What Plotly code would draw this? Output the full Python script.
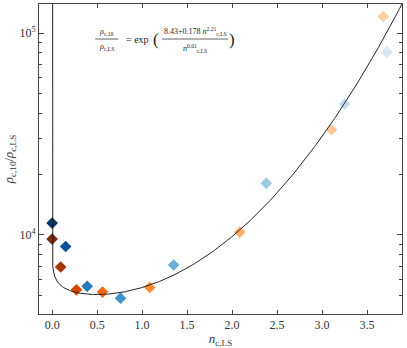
import numpy as np
import plotly.graph_objects as go

# blue series
blue_n = [0.0, 0.15, 0.39, 0.76, 1.35, 2.38, 3.25, 3.72]
blue_ratio = [11430, 8750, 5550, 4850, 7080, 18030, 44600, 80500]
blue_colors = ["#08306b", "#08519c", "#2b7bba", "#4292c6", "#6baed6", "#9ecae1", "#c6dbef", "#d6e6f4"]

# orange series
orange_n = [0.0, 0.095, 0.27, 0.56, 1.085, 2.086, 3.105, 3.68]
orange_ratio = [9520, 6920, 5330, 5200, 5480, 10310, 33200, 120900]
orange_colors = ["#7f2704", "#a63603", "#d94801", "#f16913", "#fd8d3c", "#fdae6b", "#fdc897", "#fdd0a2"]

# fit shown in the annotation
a, b, p, q = 8.43, 0.178, 2.21, 0.01
n_fit = np.concatenate([np.logspace(-40, -2, 300), np.linspace(0.011, 3.9, 400)])
fit = np.exp((a + b * n_fit ** p) / n_fit ** q)

FONT = "Liberation Serif, DejaVu Serif, serif"

fig = go.Figure()
fig.add_trace(go.Scatter(x=blue_n, y=blue_ratio, mode="markers",
                         marker=dict(symbol="diamond", size=9, color=blue_colors, line=dict(width=0)),
                         showlegend=False))
fig.add_trace(go.Scatter(x=orange_n, y=orange_ratio, mode="markers",
                         marker=dict(symbol="diamond", size=9, color=orange_colors, line=dict(width=0)),
                         showlegend=False))
fig.add_trace(go.Scatter(x=n_fit, y=fit, mode="lines",
                         line=dict(color="#222222", width=1), showlegend=False))

minor_vals = [v * 10 ** e for e in (3, 4, 5) for v in range(2, 10)]

fig.update_xaxes(range=[-0.146, 3.888], tickvals=[0, 0.5, 1, 1.5, 2, 2.5, 3, 3.5],
                 ticktext=["0.0", "0.5", "1.0", "1.5", "2.0", "2.5", "3.0", "3.5"],
                 ticks="inside", ticklen=4, tickcolor="#444", showline=True, linecolor="#444",
                 linewidth=1, mirror="ticks", showgrid=False, zeroline=False, automargin=False,
                 tickfont=dict(family=FONT, size=12, color="#333"),
                 title=dict(text="<i>n</i><sub>c,LS</sub>", standoff=1,
                            font=dict(family=FONT, size=13, color="#333")))
fig.update_yaxes(type="log", range=[3.607, 5.145], tickvals=[1e4, 1e5],
                 ticktext=["10<sup>4</sup>", "10<sup>5</sup>"],
                 ticks="inside", ticklen=5, tickcolor="#444", showline=True, linecolor="#444",
                 linewidth=1, mirror="ticks", showgrid=False, zeroline=False, automargin=False,
                 tickfont=dict(family=FONT, size=12, color="#333"),
                 minor=dict(tickvals=minor_vals, ticks="inside", ticklen=3, tickcolor="#444", showgrid=False),
                 title=dict(text="<i>ρ</i><sub>c,10</sub>/<i>ρ</i><sub>c,LS</sub>", standoff=2,
                            font=dict(family=FONT, size=13, color="#333")))

# formula annotation built as stacked fractions
small = dict(family=FONT, size=8, color="#222")
ann = dict(xref="paper", yref="paper", showarrow=False, xanchor="center", yanchor="middle")
fig.add_annotation(text="<i>ρ</i><sub>c,10</sub>", x=0.187, y=0.91, font=small, **ann)
fig.add_annotation(text="<i>ρ</i><sub>c,LS</sub>", x=0.187, y=0.862, font=small, **ann)
fig.add_annotation(text="= exp", x=0.272, y=0.885,
                   font=dict(family=FONT, size=10, color="#222"), **ann)
fig.add_annotation(text="(", x=0.322, y=0.885,
                   font=dict(family=FONT, size=17, color="#222"), **ann)
fig.add_annotation(text="8.43+0.178 <i>n</i><sup>2.21</sup><sub>c,LS</sub>", x=0.43, y=0.912,
                   font=small, **ann)
fig.add_annotation(text="<i>n</i><sup>0.01</sup><sub>c,LS</sub>", x=0.43, y=0.858, font=small, **ann)
fig.add_annotation(text=")", x=0.532, y=0.885,
                   font=dict(family=FONT, size=17, color="#222"), **ann)
fig.add_shape(type="line", xref="paper", yref="paper", x0=0.155, x1=0.219, y0=0.887, y1=0.887,
              line=dict(color="#222", width=0.7))
fig.add_shape(type="line", xref="paper", yref="paper", x0=0.339, x1=0.521, y0=0.887, y1=0.887,
              line=dict(color="#222", width=0.7))

fig.update_layout(width=407, height=348,
                  margin=dict(l=39, r=5, t=4, b=34),
                  font=dict(family=FONT, size=11, color="#333"),
                  plot_bgcolor="white", paper_bgcolor="white")

fig.write_html("out.html", config={"displayModeBar": False},
               post_script="document.body.style.margin='0';")
